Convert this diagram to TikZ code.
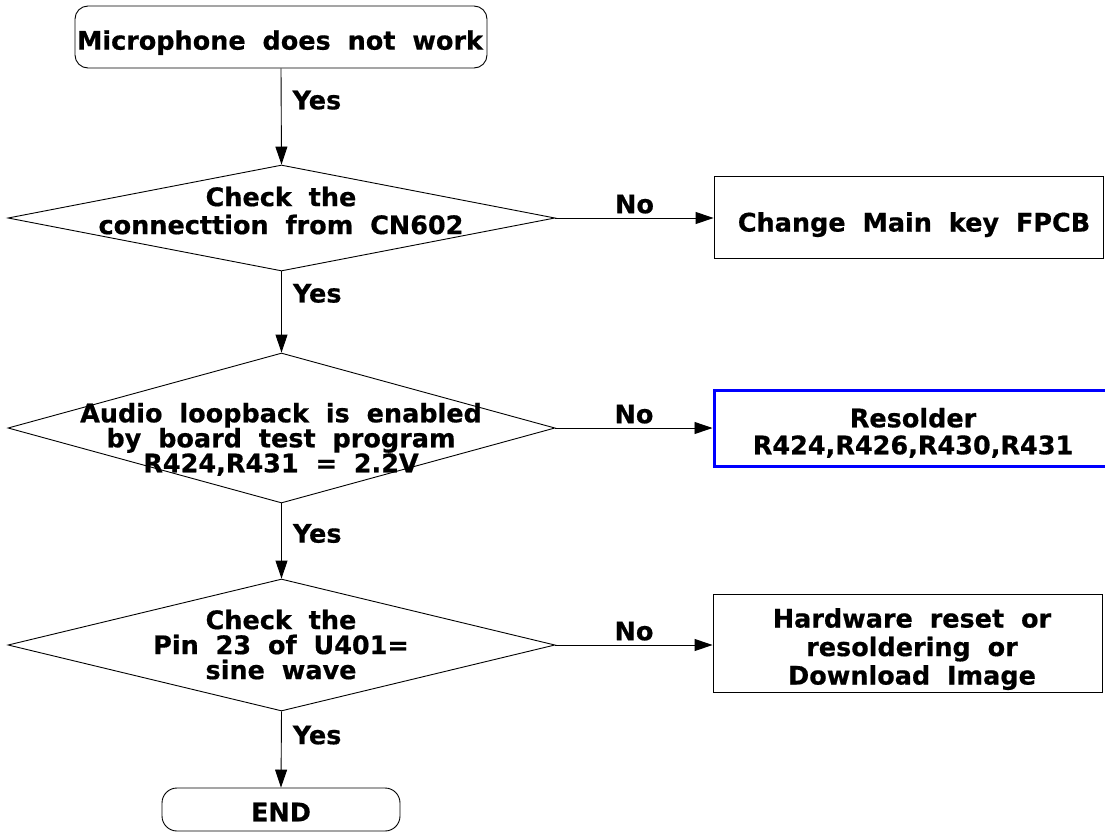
\documentclass[tikz,border=0pt]{standalone}
\usepackage{fontspec}
\setmainfont{DejaVu Sans}[WordSpace=1.9,BoldFeatures={FakeBold=0.6}]
\usetikzlibrary{shapes.geometric,arrows.meta}
\definecolor{resolderblue}{RGB}{0,0,255}
\tikzset{
  terminal/.style={draw,rounded corners=13pt,inner sep=0pt},
  decision/.style={draw,diamond,inner sep=0pt},
  action/.style={draw,inner sep=0pt},
  txt/.style={align=center,inner sep=0pt,font=\fontsize{25.5}{#1}\selectfont\bfseries},
  txt/.default=25,
  flow/.style={-{Triangle[length=18pt,width=12pt]}},
  yes/.style={anchor=west,xshift=11pt,inner sep=0pt,font=\fontsize{25.5}{25}\selectfont\bfseries},
  no/.style={above=4pt,midway,inner sep=0pt,font=\fontsize{25.5}{25}\selectfont\bfseries}
}
\begin{document}
\begin{tikzpicture}[x=1pt,y=-1pt,line width=0.9pt]
\useasboundingbox (0,0) rectangle (1105,833);
\clip (0,0) rectangle (1105,833);
% boxes
\node[terminal,minimum width=412pt,minimum height=62pt] (start) at (281,37) {};
\node[decision,minimum width=547pt,minimum height=106pt] (cn) at (281.5,218) {};
\node[decision,minimum width=547pt,minimum height=150pt] (loop) at (281.5,428) {};
\node[decision,minimum width=547pt,minimum height=132pt] (pin) at (281.5,645) {};
\node[terminal,rounded corners=15pt,minimum width=238pt,minimum height=43pt] (end) at (281,809.5) {};
\node[action,minimum width=389pt,minimum height=82pt] (fpcb) at (908.5,217) {};
\node[action,draw=resolderblue,line width=3pt,minimum width=401pt,minimum height=76pt] (resolder) at (914.5,428) {};
\node[action,minimum width=389pt,minimum height=98pt] (reset) at (907.5,643) {};
% texts
\node[txt] (starttxt) at (280,42.6) {Microphone does not work};
\node[txt=28] (cntxt) at (281,210.6) {Check the\\connecttion from CN602};
\node[txt] (looptxt) at (281,439.4) {Audio loopback is enabled\\by board test program\\R424,R431 = 2.2V};
\node[txt] (pintxt) at (281,644.6) {Check the\\Pin 23 of U401=\\sine wave};
\node[txt] (endtxt) at (281,812) {END};
\node[txt] (fpcbtxt) at (914,224.6) {Change Main key FPCB};
\node[txt=27] (resoldertxt) at (913,432.9) {Resolder\\R424,R426,R430,R431};
\node[txt=28.5] (resettxt) at (912,649.1) {Hardware reset or\\resoldering or\\Download Image};
% connectors
\draw[flow] (start.south) -- node[yes,pos=0.33]{Yes} (cn.north);
\draw[flow] (cn.south) -- node[yes,pos=0.27]{Yes} (loop.north);
\draw[flow] (loop.south) -- node[yes,pos=0.4]{Yes} (pin.north);
\draw[flow] (pin.south) -- node[yes,pos=0.31]{Yes} (end.north);
\draw[flow] (cn.east) -- node[no]{No} (cn.east -| fpcb.west);
\draw[flow] (loop.east) -- node[no]{No} (loop.east -| resolder.west);
\draw[flow] (pin.east) -- node[no]{No} (pin.east -| reset.west);
\end{tikzpicture}
\end{document}
